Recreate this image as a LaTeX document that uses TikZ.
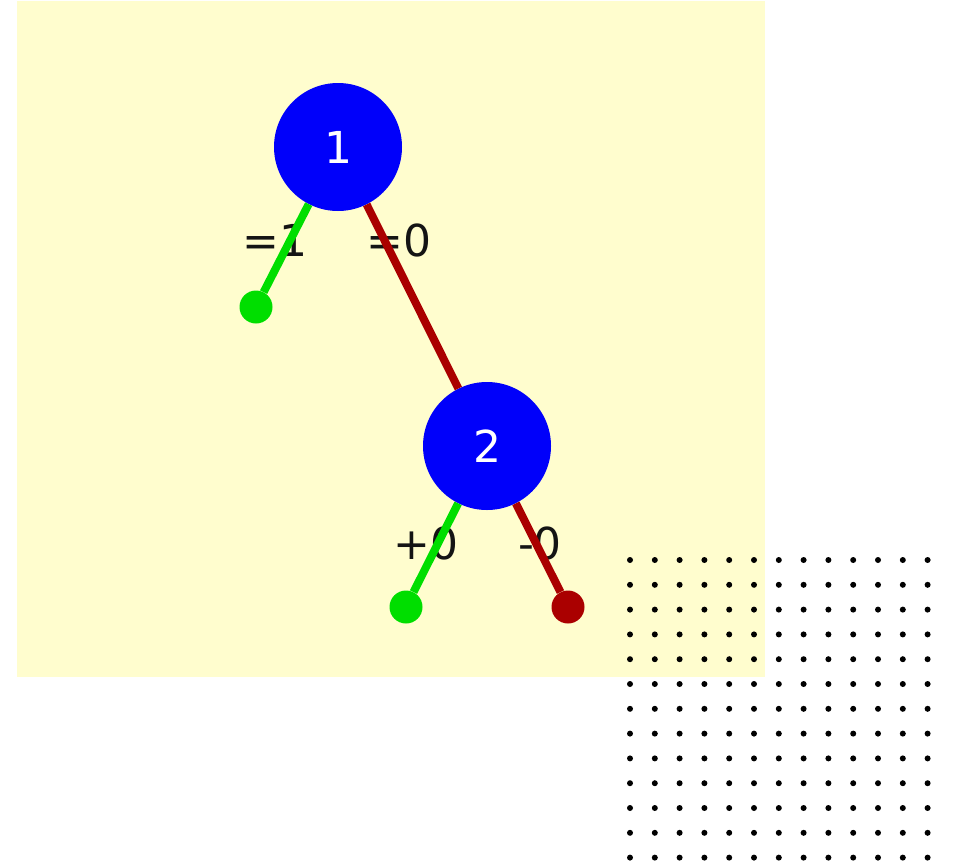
\documentclass[tikz,border=0pt]{standalone}
\usepackage{fontspec}
\setmainfont{DejaVu Sans}
\definecolor{treeBackground}{RGB}{255,253,206}
\definecolor{treeNode}{RGB}{0,0,250}
\definecolor{treeTrue}{RGB}{0,222,0}
\definecolor{treeFalse}{RGB}{170,0,0}
\definecolor{treeText}{RGB}{20,20,20}
\begin{document}
\begin{tikzpicture}[x=1pt,y=-1pt,
      decision/.style={circle, fill=treeNode, inner sep=0pt,
        minimum size=128pt, text=white,
        font=\fontsize{44}{50}\selectfont},
      leaf/.style={circle, inner sep=0pt, minimum size=33pt},
      edgelabel/.style={font=\fontsize{44}{50}\selectfont, text=treeText},
      branch/.style={line width=8pt}]
      \useasboundingbox (0,0) rectangle (953,865);
      \fill[white] (0,0) rectangle (953,865);
      \fill[treeBackground] (17,1) rectangle (765,677);

      % labels first, the branches run over them
      \node[edgelabel] (e1) at (275,240) {=1};
      \node[edgelabel] (e2) at (399,240) {=0};
      \node[edgelabel] (e3) at (426,543) {+0};
      \node[edgelabel] (e4) at (540,543) {-0};

      \node[decision] (n1) at (338,147) {1};
      \node[decision] (n2) at (487,446) {2};
      \node[leaf, fill=treeTrue] (l1) at (256,307) {};
      \node[leaf, fill=treeTrue] (l2) at (406,607) {};
      \node[leaf, fill=treeFalse] (l3) at (568,607) {};

      \draw[branch, treeTrue] (n1) -- (l1);
      \draw[branch, treeFalse] (n1) -- (n2);
      \draw[branch, treeTrue] (n2) -- (l2);
      \draw[branch, treeFalse] (n2) -- (l3);

      \foreach \i in {0,...,12}{
        \foreach \j in {0,...,12}{
          \fill[black] ({630+24.8*\i},{560+24.8*\j}) circle (3);}}
    \end{tikzpicture}
\end{document}
